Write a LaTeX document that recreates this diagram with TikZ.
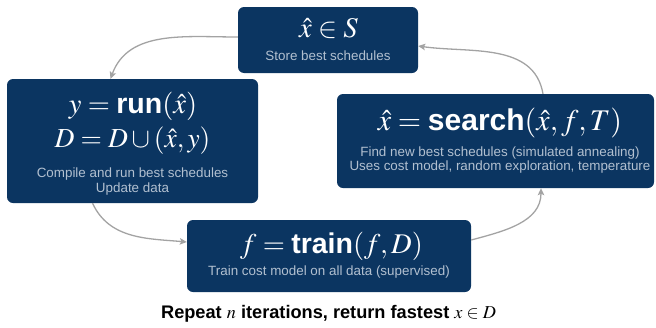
\documentclass[tikz,border=0pt]{standalone}
\usepackage{mathptmx}
\usepackage[no-math]{fontspec}
\setsansfont{Liberation Sans}
\usetikzlibrary{arrows.meta}

\definecolor{navy}{HTML}{0B3561}
\definecolor{subtxt}{HTML}{B2C0D0}
\definecolor{flow}{HTML}{A3A3A3}

\newcommand{\opname}[1]{\mbox{\sffamily\bfseries #1}}

\tikzset{
  card/.style={fill=navy, rounded corners=6pt, inner sep=0pt},
  head/.style={text=white, anchor=base, inner sep=0pt},
  note/.style={text=subtxt, anchor=base, inner sep=0pt,
               font=\sffamily\fontsize{13.4}{15}\selectfont},
  flowarrow/.style={draw=flow, line width=1.3pt,
                    -{Stealth[length=7pt,width=6.5pt,inset=1.5pt]}}
}

\begin{document}
\begin{tikzpicture}[x=1pt,y=-1pt]
  \useasboundingbox (0,0) rectangle (656,327);

  % the four stages of the loop
  \node[card, minimum width=180pt, minimum height=66pt]  (store)  at (328,40)    {};
  \node[card, minimum width=251pt, minimum height=124pt] (run)    at (132.5,141) {};
  \node[card, minimum width=317pt, minimum height=94pt]  (search) at (495.5,141) {};
  \node[card, minimum width=284pt, minimum height=72pt]  (train)  at (329,256)   {};

  % store
  \node[head, font=\fontsize{28.5}{33}\selectfont] (storemath) at (328.5,37) {$\hat{x}\in S$};
  \node[note] (storenote) at (328,60) {Store best schedules};

  % run
  \node[head, font=\fontsize{28.5}{33}\selectfont] (runmath1) at (133,113) {$y=\opname{run}(\hat{x})$};
  \node[head, font=\fontsize{27.5}{32}\selectfont] (runmath2) at (132.5,147) {$D=D\cup(\hat{x},y)$};
  \node[note] (runnote1) at (132.5,177) {Compile and run best schedules};
  \node[note] (runnote2) at (132.5,192) {Update data};

  % search
  \node[head, font=\fontsize{30}{35}\selectfont] (searchmath) at (500,130) {$\hat{x}=\opname{search}(\hat{x},f,T)$};
  \node[note] (searchnote1) at (500,156) {Find new best schedules (simulated annealing)};
  \node[note] (searchnote2) at (500,170) {Uses cost model, random exploration, temperature};

  % train
  \node[head, font=\fontsize{28.5}{33}\selectfont] (trainmath) at (331.5,253) {$f=\opname{train}(f,D)$};
  \node[note] (trainnote) at (329,275) {Train cost model on all data (supervised)};

  % caption
  \node[anchor=base, inner sep=0pt, font=\sffamily\bfseries\fontsize{18.2}{21}\selectfont]
    (caption) at (328.5,318) {Repeat $n$ iterations, return fastest $x\in D$};

  % loop arrows
  \draw[flowarrow] ([yshift=3pt]store.west) to[out=180, in=70] ([xshift=-22pt]run.north);
  \draw[flowarrow] ([xshift=-40pt]run.south) to[out=-65, in=175] ([yshift=14pt]train.west);
  \draw[flowarrow] ([yshift=16pt]train.east) to[out=15, in=-90] ([xshift=45.5pt]search.south);
  \draw[flowarrow] ([xshift=47.5pt]search.north) to[out=100, in=-8] ([yshift=-6pt]store.east);
\end{tikzpicture}
\end{document}
